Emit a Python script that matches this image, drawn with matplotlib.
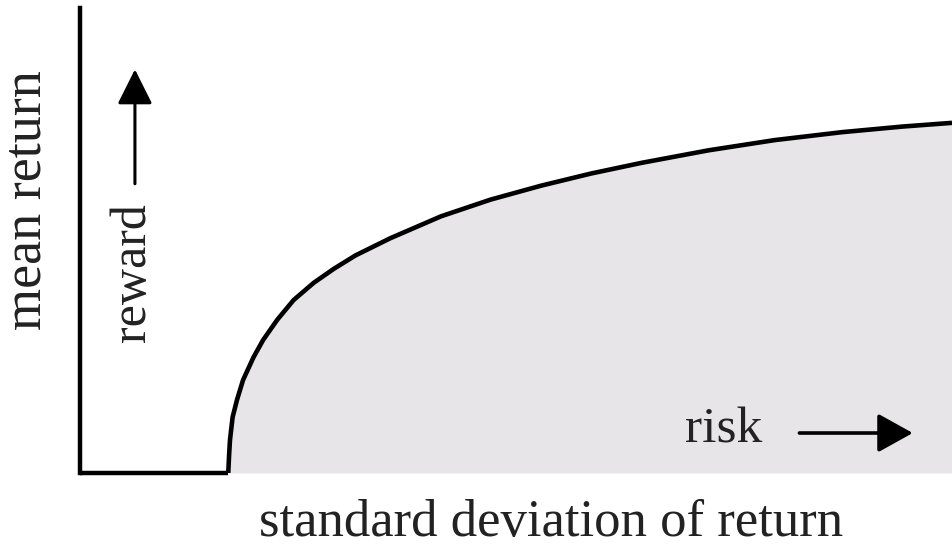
import matplotlib
matplotlib.use("Agg")
import matplotlib.pyplot as plt

# efficient frontier (arbitrary units 0..10)
sigma = [1.70, 1.71, 1.72, 1.75, 1.80, 1.87, 1.99, 2.10, 2.26, 2.45, 2.68,
         2.91, 3.16, 3.56, 4.14, 4.71, 5.29, 5.86, 6.44, 7.21, 7.97, 8.74,
         9.43, 10.0]
mean = [0.00, 0.39, 0.71, 1.20, 1.57, 2.00, 2.49, 2.86, 3.29, 3.72, 4.09,
        4.39, 4.68, 5.05, 5.52, 5.88, 6.18, 6.44, 6.67, 6.94, 7.16, 7.33,
        7.45, 7.53]

plt.rcParams['font.family'] = ['Liberation Serif', 'DejaVu Serif']

fig = plt.figure(figsize=(9.53, 5.47), dpi=100)
ax = fig.add_axes([80/953, 74/547, 872/953, 465/547])

ax.fill_between(sigma, mean, 0, color='#e7e5e8', lw=0)
ax.plot(sigma, mean, color='black', lw=3.3, solid_capstyle='butt',
        solid_joinstyle='round')
ax.plot([0, sigma[0]], [0, 0], color='black', lw=3.2, solid_capstyle='butt', clip_on=False)

ax.set_xlim(0, 10)
ax.set_ylim(0, 10)
for s in ['top', 'right', 'bottom']:
    ax.spines[s].set_visible(False)
ax.spines['left'].set_linewidth(3.2)
ax.set_xticks([])
ax.set_yticks([])

tc = '#222222'
ax.text(-0.061, 0.587, 'mean return', rotation=90, ha='center', va='center',
        fontsize=39, color=tc, transform=ax.transAxes)
ax.text(0.061, 0.432, 'reward', rotation=90, ha='center', va='center',
        fontsize=36, color=tc, transform=ax.transAxes)
ax.text(0.738, 0.093, 'risk', ha='center', va='center',
        fontsize=37, color=tc, transform=ax.transAxes)
ax.text(0.540, -0.108, 'standard deviation of return', ha='center', va='center',
        fontsize=38, color=tc, transform=ax.transAxes)

ax.annotate('', xy=(0.063, 0.868), xytext=(0.063, 0.622), xycoords='axes fraction',
            arrowprops=dict(arrowstyle='-|>,head_length=0.9,head_width=0.45',
                            color='black', lw=2.2, mutation_scale=24,
                            shrinkA=0, shrinkB=0))
ax.annotate('', xy=(0.955, 0.086), xytext=(0.825, 0.086), xycoords='axes fraction',
            arrowprops=dict(arrowstyle='-|>,head_length=0.9,head_width=0.5',
                            color='black', lw=2.6, mutation_scale=24,
                            shrinkA=0, shrinkB=0))

fig.savefig('out.png', dpi=100)
